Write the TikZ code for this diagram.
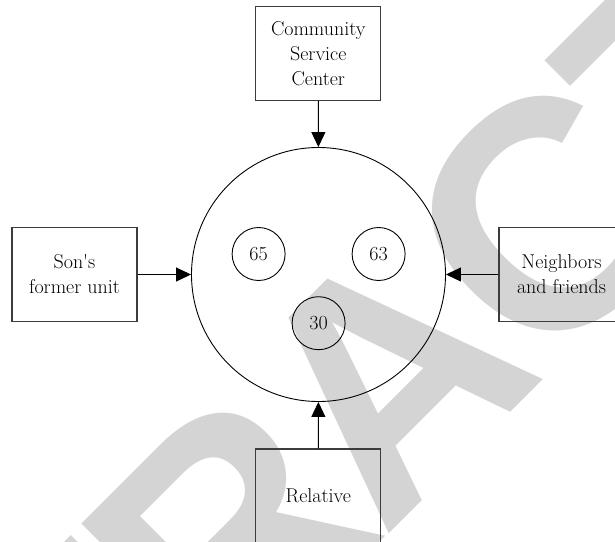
\documentclass[tikz,border=0pt]{standalone}
\usepackage{fontspec}
\newfontfamily\wmfont{Liberation Sans}
\usetikzlibrary{arrows.meta}
\definecolor{wmgray}{RGB}{212,212,212}
\definecolor{boxline}{RGB}{60,60,60}
\newcommand{\wk}{\kern-10pt}
\tikzset{
  box/.style={draw=boxline, line width=1.1pt, minimum width=125pt, minimum height=94pt,
    align=center, inner sep=0pt, font=\fontsize{20}{25}\selectfont},
  bigc/.style={draw, circle, line width=0.9pt, minimum size=254pt, inner sep=0pt},
  smallc/.style={draw, circle, line width=0.9pt, minimum size=53pt, inner sep=0pt,
    font=\fontsize{20}{25}\selectfont},
  arr/.style={line width=0.9pt, -{Triangle[length=15pt,width=14pt]}},
  wm/.style={text=wmgray, rotate=45, inner sep=0pt, anchor=center,
    font=\wmfont\bfseries\fontsize{325}{325}\selectfont}
}
\begin{document}
\begin{tikzpicture}[x=1pt,y=-1pt]
\useasboundingbox (0,0) rectangle (615,541);
\begin{scope}
\clip (0,0) rectangle (615,541);
\node[wm] (wmark) at (387,377) {R\wk E\wk T\wk R\wk A\wk C\wk T\wk E\wk D};
\node[box] (csc) at (318.3,53.3) {Community\\Service\\Center};
\node[box] (son) at (74.5,274.5) {Son\textquotesingle s\\former unit};
\node[box] (nei) at (561.5,274.5) {Neighbors\\and friends};
\node[box] (rel) at (318.3,496) {Relative};
\node[bigc] (big) at (318.5,274.5) {};
\node[smallc] (c65) at (258.6,254) {65};
\node[smallc] (c63) at (378.6,254) {63};
\node[smallc] (c30) at (318.6,323.2) {30};
\draw[arr] (csc) -- (big);
\draw[arr] (son) -- (big);
\draw[arr] (nei) -- (big);
\draw[arr] (rel) -- (big);
\end{scope}
\end{tikzpicture}
\end{document}
